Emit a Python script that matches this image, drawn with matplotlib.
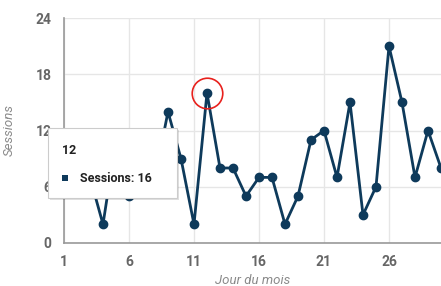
import matplotlib
matplotlib.use("Agg")
import matplotlib.pyplot as plt
from matplotlib.patches import FancyBboxPatch, Rectangle

plt.rcParams['font.family'] = ['Roboto', 'DejaVu Sans']

# data
days = list(range(1, 31))
sessions = [8, 10, 7, 2, 11, 5, 9, 7, 14, 9, 2, 16, 8, 8, 5, 7, 7, 2, 5, 11,
            12, 7, 15, 3, 6, 21, 15, 7, 12, 8]
x_ticks = [1, 6, 11, 16, 21, 26]
y_ticks = [0, 6, 12, 18, 24]
hover_day = 12

navy = '#0e3a5b'
grey = '#666666'

fig = plt.figure(figsize=(4.41, 2.86), dpi=100)
ax = fig.add_axes([64 / 441, 1 - 243 / 286, 1 - 64 / 441, (243 - 18) / 286])

ax.plot(days, sessions, color=navy, lw=2, marker='o', ms=6, zorder=3)

# highlight ring on hovered point
hv = sessions[days.index(hover_day)]
ax.plot([hover_day], [hv], marker='o', ms=22, mfc='none', mec='#e8211d',
        mew=1.2, zorder=4)

ax.set_xlim(1, 30)
ax.set_ylim(0, 24)
ax.set_xticks(x_ticks)
ax.set_yticks(y_ticks)
ax.grid(True, color='#e6e6e6', lw=1)
ax.set_axisbelow(True)
for s in ['top', 'right']:
    ax.spines[s].set_visible(False)
for s in ['left', 'bottom']:
    ax.spines[s].set_color('#999999')
    ax.spines[s].set_linewidth(1.2)
ax.tick_params(length=0, pad=9, labelsize=10, labelcolor=grey)
for lab in ax.get_xticklabels() + ax.get_yticklabels():
    lab.set_fontweight('bold')

ax.set_xlabel('Jour du mois', fontsize=9.5, style='italic', color='#8a8a8a', labelpad=3)
ax.set_ylabel('Sessions', fontsize=9.5, style='italic', color='#8a8a8a', labelpad=14)

# tooltip
W, H = 441, 286
x0, y0, x1, y1 = 48, 128, 177, 198
box = FancyBboxPatch((x0 / W, 1 - y1 / H), (x1 - x0) / W, (y1 - y0) / H,
                     boxstyle='square,pad=0', transform=fig.transFigure,
                     fc='white', ec='#cccccc', lw=0.8, zorder=10)
shadow = FancyBboxPatch(((x0 + 2) / W, 1 - (y1 + 2) / H), (x1 - x0) / W, (y1 - y0) / H,
                        boxstyle='square,pad=0', transform=fig.transFigure,
                        fc='#000000', alpha=0.12, ec='none', zorder=9)
fig.patches.extend([shadow, box])
fig.text(62 / W, 1 - 150 / H, str(hover_day), fontsize=9, fontweight='bold',
         color='#222222', va='center', zorder=11)
fig.patches.append(Rectangle((62 / W, 1 - 181 / H), 6 / W, 6 / H,
                             transform=fig.transFigure, fc=navy, ec='none', zorder=11))
fig.text(80 / W, 1 - 178 / H, f'Sessions: {hv}', fontsize=9, fontweight='bold',
         color='#222222', va='center', zorder=11)

fig.savefig('out.png', dpi=100)
